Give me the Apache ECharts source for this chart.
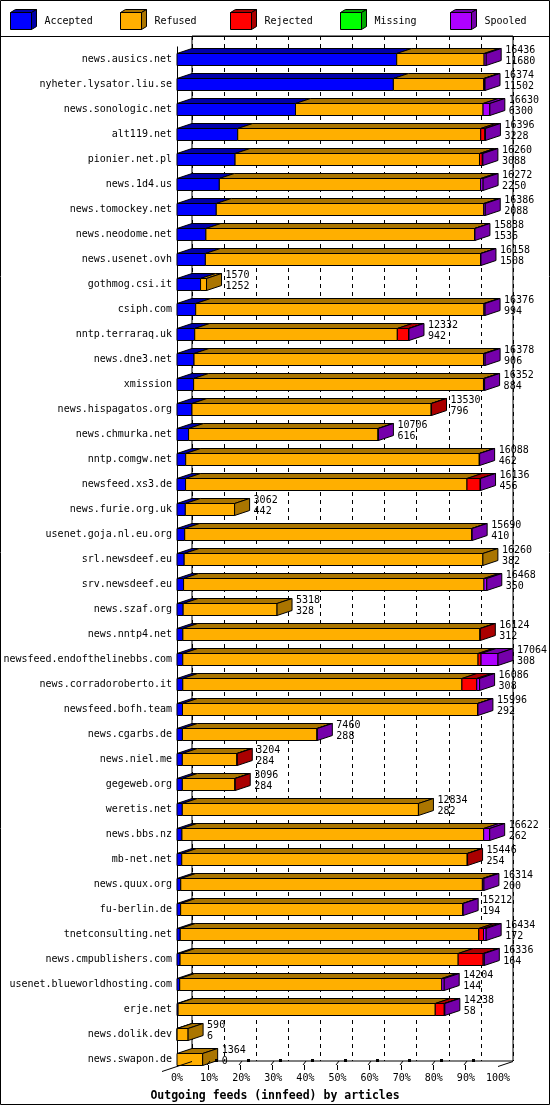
<!DOCTYPE html>
<html><head><meta charset="utf-8">
<script src="https://cdn.jsdelivr.net/npm/echarts@6/dist/echarts.min.js"></script>
<style>html,body{margin:0;padding:0;background:#fff}#c{width:550px;height:1105px}</style>
</head><body><div id="c"></div>
<script>
const categories = ['news.ausics.net','nyheter.lysator.liu.se','news.sonologic.net','alt119.net','pionier.net.pl','news.1d4.us','news.tomockey.net','news.neodome.net','news.usenet.ovh','gothmog.csi.it','csiph.com','nntp.terraraq.uk','news.dne3.net','xmission','news.hispagatos.org','news.chmurka.net','nntp.comgw.net','newsfeed.xs3.de','news.furie.org.uk','usenet.goja.nl.eu.org','srl.newsdeef.eu','srv.newsdeef.eu','news.szaf.org','news.nntp4.net','newsfeed.endofthelinebbs.com','news.corradoroberto.it','newsfeed.bofh.team','news.cgarbs.de','news.niel.me','gegeweb.org','weretis.net','news.bbs.nz','mb-net.net','news.quux.org','fu-berlin.de','tnetconsulting.net','news.cmpublishers.com','usenet.blueworldhosting.com','erje.net','news.dolik.dev','news.swapon.de'];
const offered  = [16436,16374,16630,16396,16260,16272,16386,15838,16158,1570,16376,12332,16378,16352,13530,10706,16088,16136,3062,15690,16260,16468,5318,16124,17064,16086,15996,7460,3204,3096,12834,16622,15446,16314,15212,16434,16336,14204,14238,590,1364];
const accepted = [11680,11502,6300,3228,3088,2250,2088,1536,1508,1252,994,942,906,884,796,616,462,456,442,410,382,350,328,312,308,308,292,288,284,284,282,262,254,200,194,172,164,144,58,6,0];
const refused  = [4646,4802,9970,12918,12992,13892,14218,14282,14630,318,15322,10770,15392,15408,12714,10070,15606,14960,2620,15260,15878,15968,4990,15792,15696,14838,15684,7152,2900,2792,12552,16040,15172,16034,14998,15872,14782,13930,13670,584,1364];
const rejected = [0,50,0,220,150,0,0,0,0,0,0,600,0,0,20,0,0,700,0,0,0,0,0,20,160,790,0,0,20,20,0,0,20,0,0,250,1330,0,480,0,0];
const missing  = [0,0,0,0,0,0,0,0,0,0,0,0,0,0,0,0,0,0,0,0,0,0,0,0,0,0,0,0,0,0,0,0,0,0,0,0,0,0,0,0,0];
const spooled  = [110,20,360,30,30,130,80,20,20,0,60,20,80,60,0,20,20,20,0,20,0,150,0,0,900,150,20,20,0,0,0,320,0,80,20,140,60,130,30,0,0];
const seriesNames = ['Accepted','Refused','Rejected','Missing','Spooled'];
const tickLabels = ['0%','10%','20%','30%','40%','50%','60%','70%','80%','90%','100%'];
const titleText = 'Outgoing feeds (innfeed) by articles';

const FONT = '"DejaVu Sans Mono", monospace';
const frontColors = ['#0000FF','#FFAF00','#FF0000','#00FF00','#AF00FF'];
const darkColors  = ['#0000AA','#AA7500','#AA0000','#00AA00','#7500AA'];
const DX = 15, DY = 5;
const stacks = [accepted, refused, rejected, missing, spooled];
const maxOff = Math.max.apply(null, offered);

function renderSeg(s){
  return function(params, api){
    const i = params.dataIndex;
    const v = stacks[s][i];
    if (!v) return null;
    let start = 0; for (let k = 0; k < s; k++) start += stacks[k][i];
    const end = start + v;
    let last = -1; for (let k = 0; k < 5; k++) if (stacks[k][i] > 0) last = k;
    const p0 = api.coord([start, i]), p1 = api.coord([end, i]);
    const h = api.size([0, 1])[1] * 0.48;
    const yt = Math.round(p0[1] - h / 2) + 0.5, yb = Math.round(p0[1] + h / 2) + 0.5;
    const x0 = p0[0], x1 = p1[0];
    const st = (f) => ({fill: f, stroke: '#000', lineWidth: 1});
    const children = [
      {type: 'polygon', shape: {points: [[x0, yt], [x1, yt], [x1 + DX, yt - DY], [x0 + DX, yt - DY]]}, style: st(darkColors[s])},
      {type: 'rect', shape: {x: x0, y: yt, width: x1 - x0, height: yb - yt}, style: st(frontColors[s])}
    ];
    if (s === last) children.push({type: 'polygon', shape: {points: [[x1, yt], [x1 + DX, yt - DY], [x1 + DX, yb - DY], [x1, yb]]}, style: st(darkColors[s])});
    return {type: 'group', children: children};
  };
}
function renderLabel(params, api){
  const i = params.dataIndex;
  const p = api.coord([offered[i], i]);
  return {type: 'text', x: p[0] + DX + 4, y: p[1] - 14,
    style: {text: offered[i] + '\n' + accepted[i], font: '10px ' + FONT, fill: '#000', lineHeight: 11, verticalAlign: 'top', align: 'left'}};
}

const chart = echarts.init(document.getElementById('c'), null, {renderer: 'canvas'});
const legendLefts = [10, 120, 230, 340, 450];
const series = seriesNames.map((n, s) => ({
  name: n, type: 'custom', xAxisIndex: 0, yAxisIndex: 0, clip: false, z: 3,
  itemStyle: {color: frontColors[s]},
  encode: {x: 0, y: 1},
  data: stacks[s].map((v, i) => [v, i]),
  renderItem: renderSeg(s)
}));
series.push({
  name: 'labels', type: 'custom', xAxisIndex: 0, yAxisIndex: 0, clip: false, z: 4,
  encode: {x: 0, y: 1}, data: offered.map((v, i) => [v, i]), renderItem: renderLabel
});

chart.setOption({
  animation: false,
  backgroundColor: '#fff',
  title: {text: titleText, left: 'center', top: 1085,
    textStyle: {fontFamily: FONT, fontSize: 11.5, fontWeight: 'bold', color: '#000'}},
  legend: seriesNames.map((n, k) => ({
    data: [n], left: legendLefts[k], top: 12, padding: 0, itemWidth: 21, itemHeight: 17,
    icon: 'rect', selectedMode: false,
    itemStyle: {borderColor: '#000', borderWidth: 1},
    textStyle: {fontFamily: FONT, fontSize: 10, color: '#000', padding: [0, 0, 0, 8]}
  })),
  grid: [
    {left: 177, width: 321, top: 46.5, height: 1025},
    {left: 192, width: 321, top: 36, height: 1025, show: true, borderColor: '#000', borderWidth: 1, backgroundColor: 'transparent'}
  ],
  xAxis: [
    {gridIndex: 0, type: 'value', min: 0, max: maxOff, interval: maxOff / 10,
      axisLine: {show: false}, axisTick: {show: false}, splitLine: {show: false},
      axisLabel: {margin: 2, fontFamily: FONT, fontSize: 10, color: '#000',
        formatter: (v) => tickLabels[Math.round(v * 10 / maxOff)]}},
    {gridIndex: 1, type: 'value', min: 0, max: maxOff, interval: maxOff / 10,
      axisLine: {show: false}, axisTick: {show: false}, axisLabel: {show: false},
      splitLine: {show: true, lineStyle: {color: '#000', width: 1, type: [4, 4]}}}
  ],
  yAxis: [
    {gridIndex: 0, type: 'category', inverse: true, data: categories,
      axisLine: {show: false}, axisTick: {show: false},
      axisLabel: {margin: 5, fontFamily: FONT, fontSize: 10, color: '#000'}},
    {gridIndex: 1, type: 'category', inverse: true, data: categories, show: false}
  ],
  series: series
});

// decorations: outer frame, legend separator, legend cube faces, floor
const g = [];
g.push({type: 'rect', shape: {x: 0.5, y: 0.5, width: 549, height: 1104}, style: {fill: 'none', stroke: '#000', lineWidth: 1}, z: 10});
g.push({type: 'line', shape: {x1: 0, y1: 36.5, x2: 550, y2: 36.5}, style: {stroke: '#000', lineWidth: 1}, z: 10});
legendLefts.forEach((lx, k) => {
  const x0 = lx + 0.5, y0 = 12.5, w = 21, h = 17;
  g.push({type: 'polygon', shape: {points: [[x0, y0], [x0 + w, y0], [x0 + w + 5, y0 - 3], [x0 + 5, y0 - 3]]}, style: {fill: darkColors[k], stroke: '#000', lineWidth: 1}, z: 10});
  g.push({type: 'polygon', shape: {points: [[x0 + w, y0], [x0 + w + 5, y0 - 3], [x0 + w + 5, y0 + h - 3], [x0 + w, y0 + h]]}, style: {fill: darkColors[k], stroke: '#000', lineWidth: 1}, z: 10});
});
const floorY = 1061.5;
const xb0 = chart.convertToPixel({xAxisIndex: 1}, 0), xb1 = chart.convertToPixel({xAxisIndex: 1}, maxOff);
const xf0 = chart.convertToPixel({xAxisIndex: 0}, 0);
g.push({type: 'line', shape: {x1: xf0 + 0.5, y1: 46.5, x2: xf0 + 0.5, y2: floorY + DY}, style: {stroke: '#000', lineWidth: 1}, z: 1});
g.push({type: 'line', shape: {x1: xb0, y1: floorY, x2: xb0 - 30, y2: floorY + 10}, style: {stroke: '#000', lineWidth: 1}, z: 10});
g.push({type: 'line', shape: {x1: xb1, y1: floorY, x2: xb1 - DX, y2: floorY + DY}, style: {stroke: '#000', lineWidth: 1}, z: 10});
for (let k = 1; k <= 9; k++) {
  const x = Math.round(chart.convertToPixel({xAxisIndex: 0}, maxOff * k / 10));
  g.push({type: 'line', shape: {x1: x - 2, y1: 1065, x2: x + 1, y2: 1061}, style: {stroke: '#000', lineWidth: 1}, z: 10});
  g.push({type: 'line', shape: {x1: x - 0.5, y1: 1065, x2: x - 0.5, y2: 1070}, style: {stroke: '#000', lineWidth: 1}, z: 10});
  g.push({type: 'rect', shape: {x: x + 6, y: 1059, width: 3, height: 3}, style: {fill: '#000'}, z: 10});
}
chart.setOption({graphic: {elements: g}});
</script></body></html>
